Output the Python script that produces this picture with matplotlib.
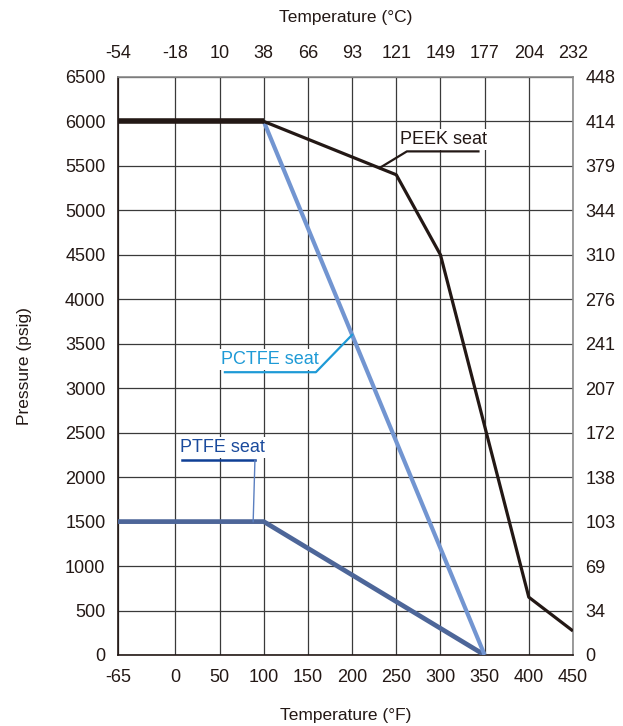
import matplotlib.pyplot as plt

plt.rcParams['font.family'] = ['Liberation Sans', 'DejaVu Sans']
plt.rcParams['axes.unicode_minus'] = False

# temperature ticks
temp_f = [-65, 0, 50, 100, 150, 200, 250, 300, 350, 400, 450]
temp_c = ['-54', '-18', '10', '38', '66', '93', '121', '149', '177', '204', '232']

# pressure ticks
psig = [0, 500, 1000, 1500, 2000, 2500, 3000, 3500, 4000, 4500, 5000, 5500, 6000, 6500]
bar = ['0', '34', '69', '103', '138', '172', '207', '241', '276', '310', '344', '379', '414', '448']

# seat curves
peek_x = [-65, 100, 250, 300, 400, 450]
peek_y = [6000, 6000, 5400, 4500, 650, 270]
pctfe_x = [100, 350]
pctfe_y = [6000, 0]
ptfe_x = [-65, 100, 350]
ptfe_y = [1500, 1500, 0]

fig = plt.figure(figsize=(6.23, 7.26), dpi=100)
ax = fig.add_axes([0.1894, 0.0978, 0.7303, 0.7962])

ax.set_xlim(-65, 450)
ax.set_ylim(0, 6500)
ax.set_xticks(temp_f)
ax.set_yticks(psig)
ax.tick_params(length=0, labelsize=13, colors='#231815')
ax.tick_params(axis='x', pad=10)
ax.tick_params(axis='y', pad=9)
ax.grid(True, color='#3a3a3a', lw=0.9)
ax.set_axisbelow(True)
for s in ['left', 'bottom']:
    ax.spines[s].set_color('#231815')
    ax.spines[s].set_linewidth(1.2)
for s in ['top', 'right']:
    ax.spines[s].set_color('#8a8a8a')
    ax.spines[s].set_linewidth(1.2)

# lines
ax.plot(ptfe_x, ptfe_y, color='#4d6699', lw=3.4, zorder=4, solid_capstyle='butt')
ax.plot(pctfe_x, pctfe_y, color='#7295d1', lw=3.0, zorder=4, solid_capstyle='butt')
ax.plot(peek_x, peek_y, color='#231815', lw=2.3, zorder=5, solid_capstyle='butt')
ax.plot(peek_x[:2], peek_y[:2], color='#231815', lw=4, zorder=5, solid_capstyle='butt')

# labels with leaders
box = dict(facecolor='white', edgecolor='none', pad=1.5)
ax.text(254, 5700, 'PEEK seat', fontsize=13, color='#231815', va='bottom', ha='left', bbox=box, zorder=3)
ax.plot([231, 262, 343], [5476, 5663, 5663], color='#231815', lw=1.6, zorder=6)

ax.text(52, 3225, 'PCTFE seat', fontsize=13, color='#1e9ad6', va='bottom', ha='left', bbox=box, zorder=3)
ax.plot([56, 159, 200], [3180, 3180, 3600], color='#1e9ad6', lw=1.6, zorder=6)

ax.text(5, 2235, 'PTFE seat', fontsize=13, color='#1a4a9c', va='bottom', ha='left', bbox=box, zorder=3)
ax.plot([7, 90], [2191, 2191], color='#0f3f95', lw=1.8, zorder=6)
ax.plot([90, 88], [2191, 1500], color='#5a7fc0', lw=1.0, zorder=6)

# secondary scales
top = ax.twiny()
top.set_xlim(ax.get_xlim())
top.set_xticks(temp_f)
top.set_xticklabels(temp_c)
top.tick_params(length=0, labelsize=13, pad=11, colors='#231815')
top.set_xlabel('Temperature (°C)', fontsize=12.5, labelpad=16, color='#231815')

right = ax.twinx()
right.set_ylim(ax.get_ylim())
right.set_yticks(psig)
right.set_yticklabels(bar)
right.tick_params(length=0, labelsize=13, pad=9, colors='#231815')

for a in [top, right]:
    for s in a.spines.values():
        s.set_visible(False)

ax.set_xlabel('Temperature (°F)', fontsize=12.5, labelpad=16, color='#231815')
ax.set_ylabel('Pressure (psig)', fontsize=12.5, labelpad=24, color='#231815')

fig.savefig('out.png', dpi=100)
